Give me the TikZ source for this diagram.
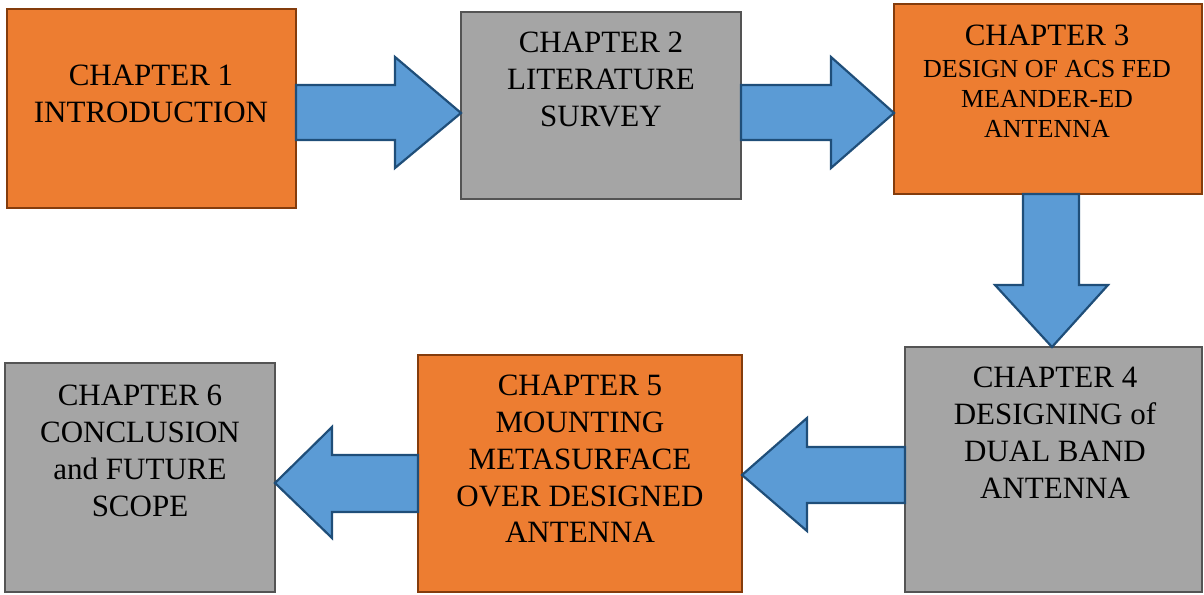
\documentclass[tikz,border=0pt]{standalone}
\usepackage{fontspec}
\setmainfont{Liberation Serif}
\definecolor{orfill}{HTML}{ED7D31}
\definecolor{ordraw}{HTML}{843C0C}
\definecolor{grfill}{HTML}{A5A5A5}
\definecolor{grdraw}{HTML}{545454}
\definecolor{blfill}{HTML}{5B9BD5}
\definecolor{bldraw}{HTML}{1F4E79}
\begin{document}
\begin{tikzpicture}[x=1pt,y=-1pt,
  box/.style={rectangle,anchor=north west,inner sep=0pt,outer sep=0pt,line width=2.4pt},
  obox/.style={box,fill=orfill,draw=ordraw},
  gbox/.style={box,fill=grfill,draw=grdraw},
  barrow/.style={fill=blfill,draw=bldraw,line width=2.2pt,line join=miter},
  txt/.style={anchor=north,inner sep=0pt,align=center,font=\fontsize{31}{36.8}\selectfont},
  stxt/.style={anchor=north,inner sep=0pt,align=center,font=\fontsize{26}{30}\selectfont}]
\useasboundingbox (0,0) rectangle (1204,594);
% boxes
\node[obox,minimum width=289pt,minimum height=199pt] (b1) at (7,9) {};
\node[gbox,minimum width=280pt,minimum height=187pt] (b2) at (461,12) {};
\node[obox,minimum width=308pt,minimum height=190pt] (b3) at (894,4) {};
\node[gbox,minimum width=297pt,minimum height=245pt] (b4) at (905,347) {};
\node[obox,minimum width=324pt,minimum height=237pt] (b5) at (418,355) {};
\node[gbox,minimum width=270pt,minimum height=229pt] (b6) at (5,363) {};
% texts
\node[txt] (t1) at (151,65) {CHAPTER 1\\INTRODUCTION};
\node[txt] (t2) at (601,32) {CHAPTER 2\\LITERATURE\\SURVEY};
\node[txt] (t3a) at (1047,25) {CHAPTER 3};
\node[stxt] (t3b) at (1047,60) {DESIGN OF ACS FED\\MEANDER-ED\\ANTENNA};
\node[txt] (t4) at (1055,367) {CHAPTER 4\\DESIGNING of\\DUAL BAND\\ANTENNA};
\node[txt] (t5) at (580,375) {CHAPTER 5\\MOUNTING\\METASURFACE\\OVER DESIGNED\\ANTENNA};
\node[txt] (t6) at (140,385) {CHAPTER 6\\CONCLUSION\\and FUTURE\\SCOPE};
% block arrows
\draw[barrow] (b1.east |- 0,85) -- (395,85) -- (395,57) -- (b2.west |- 0,113)
  -- (395,168) -- (395,140) -- (b1.east |- 0,140) -- cycle;
\draw[barrow] (b2.east |- 0,85) -- (831,85) -- (831,57) -- (b3.west |- 0,113)
  -- (831,168) -- (831,140) -- (b2.east |- 0,140) -- cycle;
\draw[barrow] (1023,0 |- b3.south) -- (1023,285) -- (995,285) -- (1052,0 |- b4.north)
  -- (1108,285) -- (1079,285) -- (1079,0 |- b3.south) -- cycle;
\draw[barrow] (b4.west |- 0,447) -- (807,447) -- (807,418) -- (b5.east |- 0,475)
  -- (807,531) -- (807,503) -- (b4.west |- 0,503) -- cycle;
\draw[barrow] (b5.west |- 0,455) -- (332,455) -- (332,427) -- (b6.east |- 0,483)
  -- (332,538) -- (332,512) -- (b5.west |- 0,512) -- cycle;
\end{tikzpicture}
\end{document}
